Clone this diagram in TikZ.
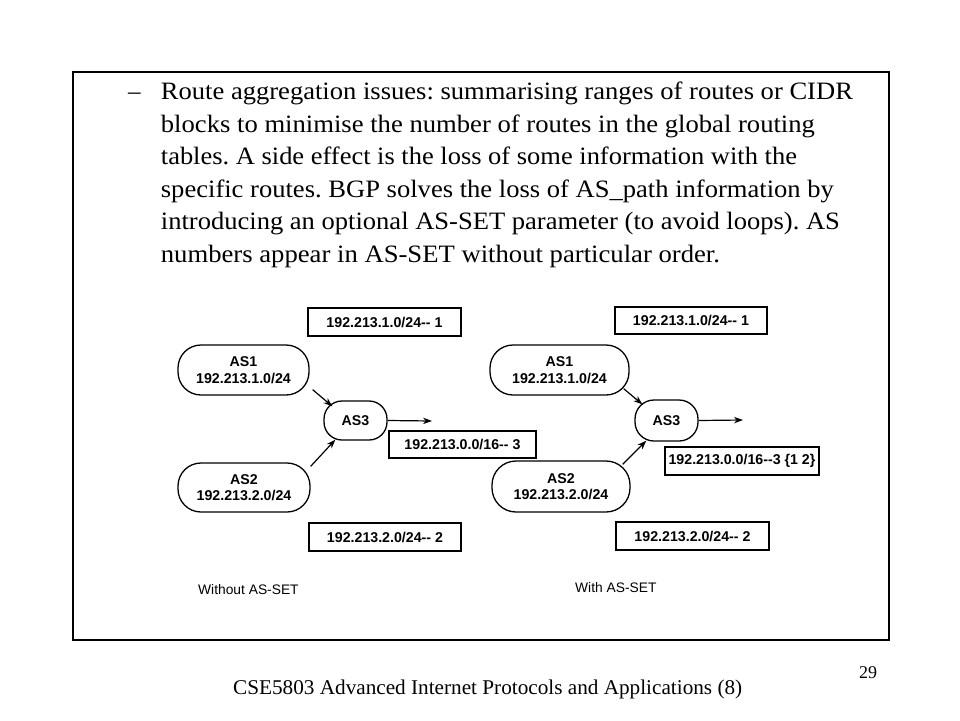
\documentclass[tikz,border=0pt]{standalone}
\usepackage{graphicx}
\usepackage{fontspec}
\setmainfont{Liberation Serif}
\newfontfamily\diagfont{Liberation Sans}
\usetikzlibrary{arrows.meta}
\frenchspacing
\begin{document}
\begin{tikzpicture}[x=1pt,y=-1pt,
  bodytext/.style={anchor=base west,inner sep=0pt,font=\frenchspacing\fontsize{25}{30}\selectfont},
  routebox/.style={draw,line width=1.3pt,rectangle,inner sep=0pt,align=center,
    font=\diagfont\bfseries\fontsize{14.2}{16.5}\selectfont},
  asnode/.style={draw,line width=1.3pt,rectangle,rounded corners=#1,inner sep=0pt,align=center,
    font=\diagfont\bfseries\fontsize{14.2}{16.5}\selectfont},
  caption/.style={anchor=west,inner sep=0pt,font=\diagfont\fontsize{13.8}{16}\selectfont},
  arr/.style={-{Stealth[length=9pt,width=6.5pt]},line width=1.2pt}
]
\useasboundingbox (0,0) rectangle (960,720);
\fill[white] (0,0) rectangle (960,720);

% frame
\node[draw,line width=1.3pt,rectangle,inner sep=0pt,minimum width=816pt,minimum height=568pt] (frame) at (481,356) {};

% bullet text
\node[bodytext] (dash) at (128,99.5) {–};
\node[bodytext] (l1) at (160.7,99.5) {\resizebox{692pt}{\height}{Route aggregation issues: summarising ranges of routes or CIDR}};
\node[bodytext] (l2) at (160.7,132) {\resizebox{654pt}{\height}{blocks to minimise the number of routes in the global routing}};
\node[bodytext] (l3) at (160.7,164.5) {\resizebox{636pt}{\height}{tables. A side effect is the loss of some information with the}};
\node[bodytext] (l4) at (160.7,197) {\resizebox{673pt}{\height}{specific routes. BGP solves the loss of AS\_path information by}};
\node[bodytext] (l5) at (160.7,229.5) {\resizebox{679pt}{\height}{introducing an optional AS-SET parameter (to avoid loops). AS}};
\node[bodytext] (l6) at (160.7,262) {\resizebox{559pt}{\height}{numbers appear in AS-SET without particular order.}};

% left diagram
\node[routebox,minimum width=153pt,minimum height=28pt] (b1L) at (384.5,322) {192.213.1.0/24-{}- 1};
\node[asnode=23pt,minimum width=131pt,minimum height=50pt] (as1L) at (243.5,370) {AS1\\192.213.1.0/24};
\node[asnode=18pt,minimum width=63pt,minimum height=39pt] (as3L) at (355.5,420.5) {AS3};
\node[asnode=23pt,minimum width=132pt,minimum height=49pt] (as2L) at (244,487.5) {AS2\\192.213.2.0/24};
\node[routebox,minimum width=152pt,minimum height=28pt] (b2L) at (385,537) {192.213.2.0/24-{}- 2};
\node[routebox,minimum width=147pt,minimum height=27pt] (b3L) at (462.5,444.5) {192.213.0.0/16-{}- 3};
\coordinate (outL) at (432,421);
\draw[arr] ([shift={(3pt,6pt)}]as1L.south east) -- ([shift={(9pt,-6pt)}]as3L.north west);
\draw[arr] ([shift={(0pt,-4pt)}]as2L.north east) -- ([shift={(12pt,1pt)}]as3L.south west);
\draw[arr] (as3L.east) -- (outL);
\node[caption] (capL) at (198,590) {Without AS-SET};

% right diagram
\node[routebox,minimum width=152pt,minimum height=27pt] (b1R) at (691,320.5) {192.213.1.0/24-{}- 1};
\node[asnode=23pt,minimum width=139pt,minimum height=50pt] (as1R) at (559.5,370) {AS1\\192.213.1.0/24};
\node[asnode=19pt,minimum width=63pt,minimum height=41pt] (as3R) at (666.5,420.5) {AS3};
\node[asnode=24pt,minimum width=138pt,minimum height=51pt] (as2R) at (561,486.5) {AS2\\192.213.2.0/24};
\node[routebox,minimum width=153pt,minimum height=28pt] (b2R) at (692.5,536) {192.213.2.0/24-{}- 2};
\node[routebox,minimum width=154pt,minimum height=28pt] (b3R) at (742,461) {192.213.0.0/16-{}-3 \{1 2\}};
\coordinate (outR) at (743,420);
\draw[arr] ([shift={(-6pt,7pt)}]as1R.south east) -- ([shift={(8pt,-5pt)}]as3R.north west);
\draw[arr] ([shift={(-8pt,-4pt)}]as2R.north east) -- ([shift={(12pt,1pt)}]as3R.south west);
\draw[arr] (as3R.east) -- (outR);
\node[caption] (capR) at (575,588) {With AS-SET};

% footer
\node[anchor=base west,inner sep=0pt,font=\fontsize{21}{25}\selectfont] (footer) at (233,694)
  {\resizebox{509pt}{\height}{CSE5803 Advanced Internet Protocols and Applications (8)}};
\node[anchor=base west,inner sep=0pt,font=\fontsize{18}{22}\selectfont] (pagenum) at (859,678) {29};
\end{tikzpicture}
\end{document}
